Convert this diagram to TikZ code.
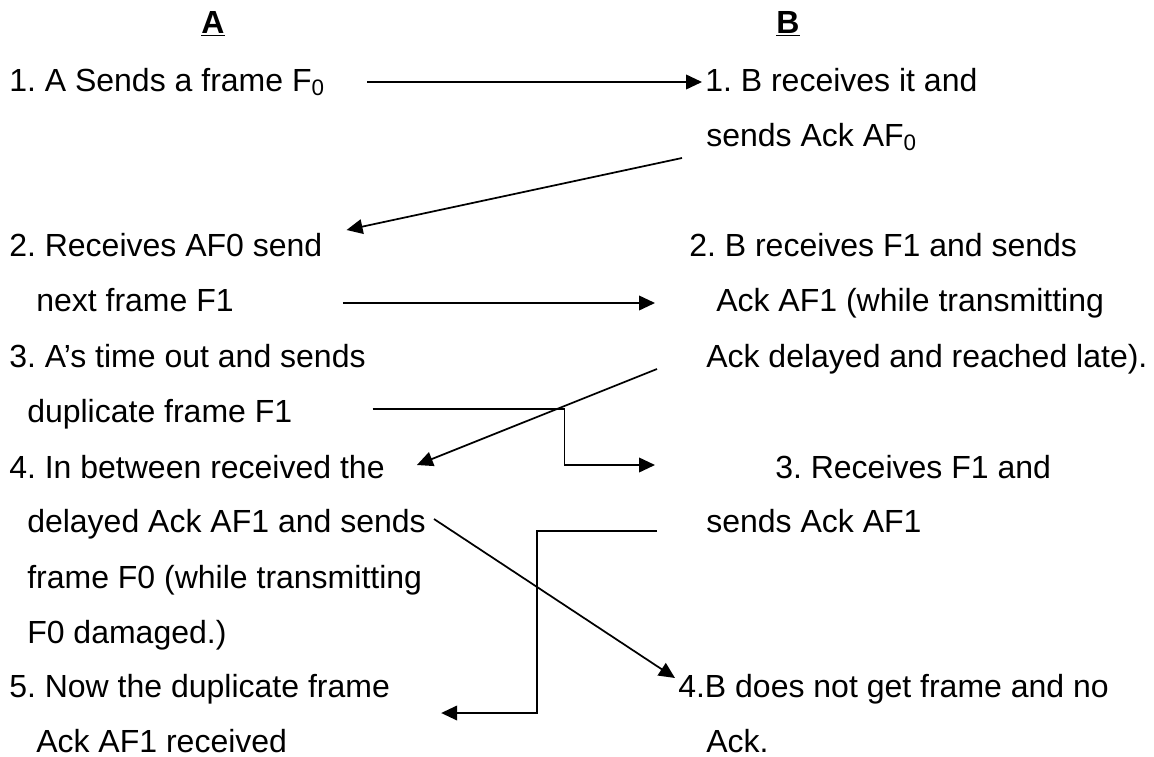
\documentclass[tikz,border=0pt]{standalone}
\usepackage{fontspec}
\setmainfont{Liberation Sans}
\usetikzlibrary{arrows.meta,calc}
\frenchspacing

\begin{document}
\begin{tikzpicture}[x=0.75pt,y=-0.75pt]

    \tikzset{txt/.style={anchor=base west,inner sep=0pt,font=\fontsize{24}{28}\selectfont},
             colhead/.style={anchor=base,inner sep=0pt,font=\fontsize{24}{28}\selectfont\bfseries}}
    \useasboundingbox (0,0) rectangle (1154,757);

    % column heads
    \node[colhead] (hA) at (213,33) {\underline{A}};
    \node[colhead] (hB) at (788,33) {\underline{B}};

    % side A
    \node[txt] (a1) at (9,91) {1. A Sends a frame F\textsubscript{0}};
    \node[txt] (a2) at (9,256) {2. Receives AF0 send};
    \node[txt] (a2b) at (36,311) {next frame F1};
    \node[txt] (a3) at (9,367) {3. A’s time out and sends};
    \node[txt] (a3b) at (27,422) {duplicate frame F1};
    \node[txt] (a4) at (9,478) {4. In between received the};
    \node[txt] (a4b) at (27,532) {delayed Ack AF1 and sends};
    \node[txt] (a4c) at (27,588) {frame F0 (while transmitting};
    \node[txt] (a4d) at (27,643) {F0 damaged.)};
    \node[txt] (a5) at (9,697) {5. Now the duplicate frame};
    \node[txt] (a5b) at (36,752) {Ack AF1 received};

    % side B
    \node[txt] (b1) at (705,91) {1. B receives it and};
    \node[txt] (b1b) at (706,146) {sends Ack AF\textsubscript{0}};
    \node[txt] (b2) at (689,256) {2. B receives F1 and sends};
    \node[txt] (b2b) at (716,311) {Ack AF1 (while transmitting};
    \node[txt] (b2c) at (706,367) {Ack delayed and reached late).};
    \node[txt] (b3) at (775,478) {3. Receives F1 and};
    \node[txt] (b3b) at (706,532) {sends Ack AF1};
    \node[txt] (b4) at (678,697) {4.B does not get frame and no};
    \node[txt] (b4b) at (706,752) {Ack.};

    \begin{scope}[every path/.style={-{Triangle[length=12pt,width=11pt]},line width=1.3pt}]
        \draw ($(a1.base east)+(42,-9)$) -- ($(b1.base west)+(-3,-9)$);
        \draw ($(b1b.base west)+(-24,12)$) -- ($(a2.base east)+(24,-26)$);
        \draw ($(a2b.base east)+(109,-8)$) -- ($(b2b.base west)+(-61,-8)$);
        \draw ($(b2c.base west)+(-49,2)$) -- ($(a4.base east)+(32,-13)$);
        \draw ($(a3b.base east)+(80,-13)$) -- ++(192,0) |- ($(b3.base west)+(-120,-13)$);
        \draw ($(a4b.base east)+(8,-13)$) -- ($(b4.base west)+(-3,-19)$);
        \draw ($(b3b.base west)+(-49,-1)$) -- ++(-120,0) |- ($(a5.base east)+(51,16)$);
    \end{scope}

\end{tikzpicture}
\end{document}
